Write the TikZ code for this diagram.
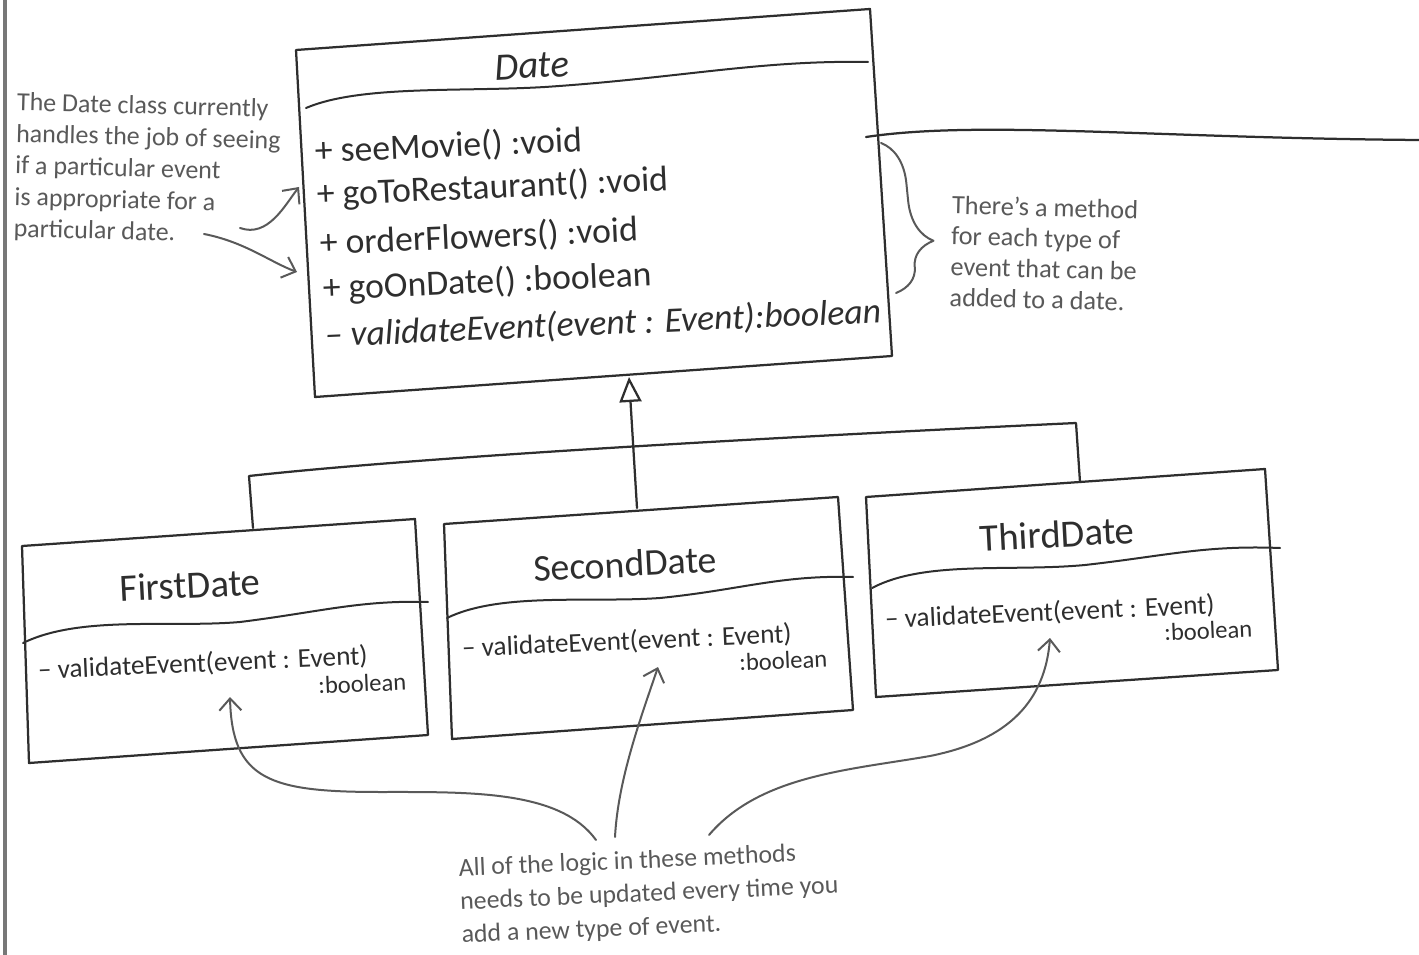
\documentclass[tikz,border=0pt]{standalone}
\usepackage{fontspec}
\setmainfont{Carlito}
\definecolor{sketchink}{HTML}{2E2E2E}
\definecolor{noteink}{HTML}{595959}
\definecolor{pageedge}{HTML}{777777}
\usetikzlibrary{arrows.meta,decorations.pathreplacing}

\begin{document}
\begin{tikzpicture}[
  x=0.02cm,y=-0.02cm,
  line join=round,
  line cap=round,
  classbox/.style={draw=sketchink,line width=0.45mm},
  divider/.style={draw=sketchink,line width=0.4mm},
  inherit/.style={draw=sketchink,line width=0.45mm},
  notearrow/.style={draw=noteink,line width=0.4mm,-{Straight Barb[length=2.4mm,width=4.4mm]}},
  bracket/.style={draw=noteink,line width=0.4mm,decorate,decoration={brace,amplitude=0.85cm,aspect=0.68}},
  classname/.style={font=\fontsize{22}{26}\selectfont,text=sketchink,inner sep=0pt,rotate=3},
  member/.style={font=\fontsize{20.3}{24}\selectfont,text=sketchink,anchor=base west,inner sep=0pt,rotate=2.5},
  submember/.style={font=\fontsize{15.5}{18}\selectfont,text=sketchink,anchor=base west,inner sep=0pt,rotate=2.5},
  subreturn/.style={font=\fontsize{14}{16}\selectfont,text=sketchink,anchor=base east,inner sep=0pt,rotate=2.5},
  note/.style={font=\fontsize{14.8}{18}\selectfont,text=noteink,align=left,inner sep=0pt,anchor=north west}
]
  \useasboundingbox (0,0) rectangle (1419,955);

  % page edge on the left
  \coordinate (pageTop) at (5,0);
  \coordinate (pageBottom) at (5,955);
  \draw[pageedge,line width=0.7mm] (pageTop) -- (pageBottom);

  % Date class
  \coordinate (dateTL) at (296,50);
  \coordinate (dateTR) at (870,9);
  \coordinate (dateBR) at (892,356);
  \coordinate (dateBL) at (315,397);
  \draw[classbox] (dateTL) -- (dateTR) -- (dateBR) -- (dateBL) -- cycle;
  \draw[divider] (306,108) .. controls (360,85) and (460,92) .. (545,87)
    .. controls (680,78) and (760,60) .. (868,62);

  \node[classname,font=\fontsize{22}{26}\selectfont\itshape] (dateName) at (532,66) {Date};
  \node[member] (seeMovie) at (315,163) {+ seeMovie() :void};
  \node[member] (goToRestaurant) at (317,206) {+ goToRestaurant() :void};
  \node[member] (orderFlowers) at (320,255) {+ orderFlowers() :void};
  \node[member] (goOnDate) at (323,300) {+ goOnDate() :boolean};
  \node[member,font=\fontsize{20.3}{24}\selectfont\itshape] (dateValidate) at (325,347)
    {-- validateEvent(event : Event):boolean};

  % FirstDate class
  \coordinate (firstTL) at (22,546);
  \coordinate (firstTR) at (415,519);
  \coordinate (firstBR) at (428,735);
  \coordinate (firstBL) at (29,763);
  \draw[classbox] (firstTL) -- (firstTR) -- (firstBR) -- (firstBL) -- cycle;
  \draw[divider] (23,643) .. controls (80,615) and (170,628) .. (240,622)
    .. controls (320,612) and (360,600) .. (428,602);
  \node[classname] (firstName) at (190,585) {FirstDate};
  \node[submember] (firstValidate) at (38,679) {-- validateEvent(event : Event)};
  \node[subreturn] (firstReturn) at (407,690) {:boolean};

  % SecondDate class
  \coordinate (secondTL) at (444,524);
  \coordinate (secondTR) at (838,497);
  \coordinate (secondBR) at (853,710);
  \coordinate (secondBL) at (452,739);
  \draw[classbox] (secondTL) -- (secondTR) -- (secondBR) -- (secondBL) -- cycle;
  \draw[divider] (447,618) .. controls (500,592) and (590,603) .. (660,598)
    .. controls (740,590) and (780,575) .. (853,577);
  \node[classname,font=\fontsize{21.5}{26}\selectfont] (secondName) at (625,564) {SecondDate};
  \node[submember] (secondValidate) at (462,657) {-- validateEvent(event : Event)};
  \node[subreturn] (secondReturn) at (828,667) {:boolean};

  % ThirdDate class
  \coordinate (thirdTL) at (866,497);
  \coordinate (thirdTR) at (1265,469);
  \coordinate (thirdBR) at (1278,670);
  \coordinate (thirdBL) at (876,697);
  \draw[classbox] (thirdTL) -- (thirdTR) -- (thirdBR) -- (thirdBL) -- cycle;
  \draw[divider] (872,588) .. controls (925,560) and (1010,572) .. (1085,565)
    .. controls (1165,556) and (1205,545) .. (1280,548);
  \node[classname] (thirdName) at (1057,534) {ThirdDate};
  \node[submember] (thirdValidate) at (885,628) {-- validateEvent(event : Event)};
  \node[subreturn] (thirdReturn) at (1253,637) {:boolean};

  % generalisation
  \coordinate (dateBottom) at (629,377);
  \coordinate (secondTop) at (637,508);
  \coordinate (firstTop) at (253,528);
  \coordinate (thirdTop) at (1080,482);
  \coordinate (busL) at (249,476);
  \coordinate (busR) at (1076,423);
  \draw[inherit] (firstTop) -- (busL) .. controls (430,456) and (800,436) .. (busR) -- (thirdTop);
  \draw[inherit,-{Triangle[open,length=5mm,width=4.4mm]}] (secondTop) -- (dateBottom);

  % line running off to the right
  \coordinate (dateHook) at (866,137);
  \coordinate (offRight) at (1419,140);
  \draw[inherit] (dateHook) .. controls (980,120) and (1150,138) .. (offRight);

  % notes
  \node[note,rotate=-1.5] (dateNote) at (17,92)
    {The Date class currently\\handles the job of seeing\\if a particular event\\is appropriate for a\\particular date.};
  \coordinate (jobEndA) at (240,228);
  \coordinate (jobEndB) at (204,234);
  \coordinate (dateTipA) at (299,187);
  \coordinate (dateTipB) at (297,272);
  \draw[notearrow] (jobEndA) .. controls (268,238) and (285,205) .. (dateTipA);
  \draw[notearrow] (jobEndB) .. controls (245,242) and (270,262) .. (dateTipB);

  \coordinate (braceTop) at (881,143);
  \coordinate (braceBottom) at (896,293);
  \draw[bracket] (braceTop) -- (braceBottom);
  \node[note,font=\fontsize{15}{17.5}\selectfont,rotate=-1.5] (methodNote) at (952,195)
    {There's a method\\for each type of\\event that can be\\added to a date.};

  \node[note,font=\fontsize{14.7}{19}\selectfont,rotate=2.5] (logicNote) at (458,858)
    {All of the logic in these methods\\needs to be updated every time you\\add a new type of event.};
  \coordinate (logicA) at (596,840);
  \coordinate (logicB) at (615,837);
  \coordinate (logicC) at (709,835);
  \coordinate (firstTip) at (230,697);
  \coordinate (secondTip) at (658,667);
  \coordinate (thirdTip) at (1050,638);
  \draw[notearrow] (logicA) .. controls (560,790) and (470,792) .. (380,792)
    .. controls (270,792) and (232,780) .. (firstTip);
  \draw[notearrow] (logicB) .. controls (618,780) and (640,720) .. (secondTip);
  \draw[notearrow] (logicC) .. controls (760,775) and (850,770) .. (930,756)
    .. controls (1010,740) and (1045,700) .. (thirdTip);
\end{tikzpicture}
\end{document}
